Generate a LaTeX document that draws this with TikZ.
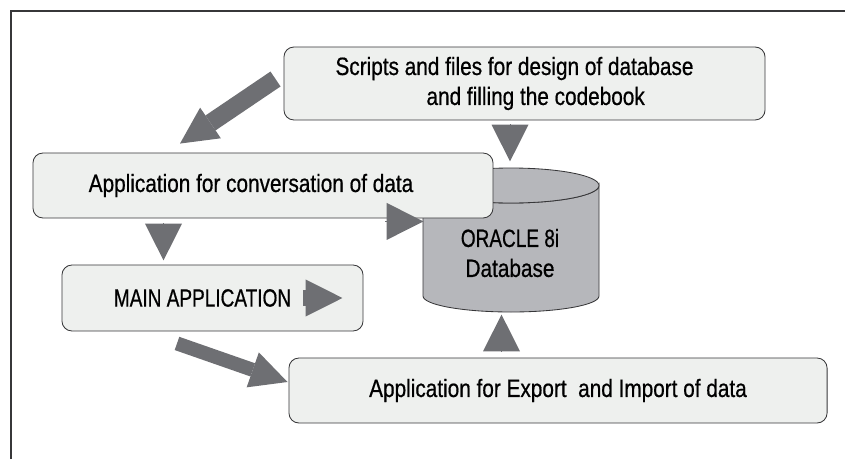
\documentclass[tikz,border=0pt]{standalone}
\usepackage{fontspec}
\setmainfont{Liberation Sans}[FakeStretch=0.83, FakeBold=0.6]
\newfontfamily\capsfont{Liberation Sans}[FakeStretch=0.76, FakeBold=0.6]
\usetikzlibrary{positioning, calc, arrows.meta}
\definecolor{inkdark}{RGB}{55,55,57}
\definecolor{arrowgrey}{RGB}{110,111,115}
\definecolor{boxpanel}{RGB}{238,240,238}
\definecolor{dbgrey}{RGB}{182,183,187}

\begin{document}
\begin{tikzpicture}[x=0.025cm, y=-0.025cm, font=\fontsize{17.8}{21.3}\selectfont,
  appbox/.style={draw=inkdark, fill=boxpanel, rounded corners=0.25cm, line width=0.6pt, inner sep=0pt},
  fatarrow/.style={draw=arrowgrey, line width=#1, -{Triangle[length=0.92cm, width=0.925cm, line width=0pt]}},
  fatarrow/.default=0.4pt]
  \useasboundingbox (0,0) rectangle (845,459);
  % frame, top and left side only
  \draw[inkdark, line width=1pt] (11,459) -- (11,11) -- (845,11);
  % database cylinder
  \filldraw[fill=dbgrey, draw=inkdark, line width=0.6pt]
    (423,185.5) -- (423,296) arc[start angle=180, end angle=0, x radius=88, y radius=16]
    -- (599,185.5) arc[start angle=0, end angle=180, x radius=88, y radius=17.5] -- cycle;
  \filldraw[fill=dbgrey, draw=inkdark, line width=0.6pt] (511,185.5) ellipse[x radius=88, y radius=17.5];
  \node[align=center, inner sep=0pt] (db) at (510,253) {{\capsfont ORACLE 8i}\\Database};
  % the application boxes
  \node[appbox, minimum width=12.025cm, minimum height=1.825cm, align=left] (scripts) at (524.5,83.5)
    {Scripts and files for design of database\hspace*{0.5cm}\\\hspace*{2.275cm}and filling the codebook};
  \node[appbox, minimum width=11.5cm, minimum height=1.625cm] (conv) at (263,185.5)
    {Application for conversation of data\hspace*{0.6cm}};
  \node[appbox, minimum width=7.525cm, minimum height=1.65cm] (main) at (212.5,298)
    {\capsfont MAIN APPLICATION\hspace*{0.5cm}};
  \node[appbox, minimum width=13.45cm, minimum height=1.625cm] (export) at (558,390.5)
    {Application for Export\ \ and Import of data};
  % arrows
  \draw[fatarrow=0.45cm] ($(scripts.west)+(-8,-4.5)$) -- ($(conv.north)+(-83,-9)$);
  \draw[fatarrow] ($(scripts.south)+(-14.5,4)$) -- ++(0,37);
  \draw[fatarrow] ($(conv.south)+(-99.5,5)$) -- ++(0,37);
  \draw[fatarrow] ($(conv.south east)+(-108,3)$) -- ++(38,0);
  \draw[fatarrow=0.4cm] ($(main.east)+(-60,0)$) -- ++(39,0);
  \draw[fatarrow=0.35cm] ($(main.south)+(-35.5,12)$) -- ($(export.west)+(-1,-8.5)$);
  \draw[fatarrow] ($(export.north)+(-56.5,-6)$) -- ++(0,-37);
\end{tikzpicture}
\end{document}
